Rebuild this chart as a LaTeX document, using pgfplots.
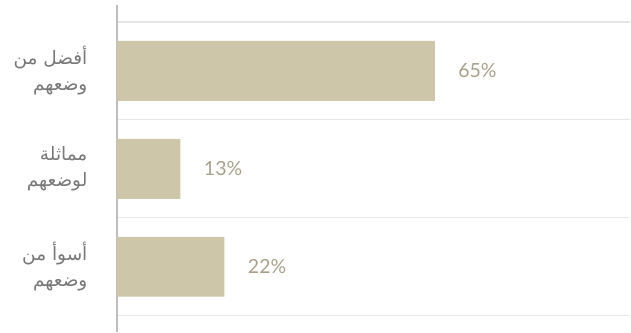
\documentclass[border=0pt]{standalone}
\usepackage{pgfplots}
\pgfplotsset{compat=1.18}
\usepackage{fontspec}
\setmainfont{Lato}
\newfontfamily\arabicfont[Script=Arabic]{DejaVu Sans}
\TeXXeTstate=1
\definecolor{barfill}{RGB}{206,198,169}
\definecolor{valtext}{RGB}{168,160,136}
\definecolor{labeltext}{RGB}{120,120,120}
\definecolor{gridgrey}{RGB}{230,230,230}
\definecolor{axisgrey}{RGB}{190,190,190}

\begin{document}
\begin{tikzpicture}
\begin{axis}[
    name=ax,
    scale only axis,
    width=514pt, height=327pt,
    xbar, bar width=60pt,
    xmin=0, xmax=105,
    ymin=-0.673, ymax=2.663,
    y dir=reverse,
    axis x line=none,
    axis y line*=left,
    y axis line style={draw=axisgrey, line width=2pt, -},
    xtick=\empty,
    ytick={0,1,2},
    yticklabels={
        {\beginR أفضل من\endR\\\beginR وضعهم\endR},
        {\beginR مماثلة\endR\\\beginR لوضعهم\endR},
        {\beginR أسوأ من\endR\\\beginR وضعهم\endR}},
    yticklabel style={font=\arabicfont\fontsize{18.5}{26}\selectfont,
        align=right, text=labeltext, xshift=-26pt},
    major tick length=0pt,
    minor ytick={-0.5,0.5,1.5,2.5},
    minor tick length=0pt,
    yminorgrids,
    minor grid style={draw=gridgrey, line width=1.2pt},
    /pgf/number format/assume math mode=true,
    nodes near coords={\pgfmathprintnumber{\pgfplotspointmeta}\%},
    every node near coord/.append style={font=\fontsize{19.5}{19.5}\selectfont,
        text=valtext, anchor=west, xshift=20pt},
]
\addplot[draw=none, fill=barfill] coordinates {(65,0) (13,1) (22,2)};
\end{axis}
\path[use as bounding box] ([xshift=-117pt]ax.south west) rectangle ([yshift=5pt]ax.north east);
\end{tikzpicture}
\end{document}
